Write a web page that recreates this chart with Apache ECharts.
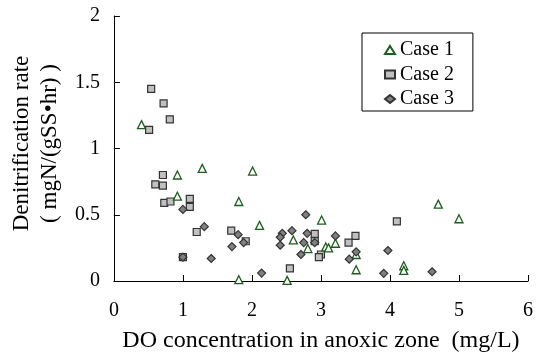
<!DOCTYPE html>
<html>
<head>
<meta charset="utf-8">
<script src="https://cdn.jsdelivr.net/npm/echarts@6/dist/echarts.min.js"></script>
<style>html,body{margin:0;padding:0;background:#fff;}#c{width:536px;height:358px;}</style>
</head>
<body>
<div id="c"></div>
<script>
var xTicks = [0, 1, 2, 3, 4, 5, 6];
var yTicks = [0, 0.5, 1, 1.5, 2];
var seriesNames = ['Case 1', 'Case 2', 'Case 3'];

var case1 = [
  [0.40,1.18],[0.92,0.80],[1.28,0.85],[2.01,0.83],[0.92,0.64],[1.81,0.60],[1.81,0.01],
  [3.01,0.46],[2.11,0.42],[2.60,0.31],[3.21,0.285],[2.81,0.245],[3.07,0.257],[3.11,0.25],
  [3.51,0.20],[3.51,0.085],[2.51,0.005],[4.70,0.58],[5.00,0.47],[4.20,0.115],[4.20,0.08]
];
var case2 = [
  [0.54,1.45],[0.72,1.34],[0.81,1.22],[0.51,1.14],[0.71,0.80],[0.60,0.73],[0.71,0.72],
  [0.73,0.59],[0.82,0.60],[1.10,0.62],[1.10,0.56],[1.20,0.37],[1.70,0.38],[1.91,0.30],
  [1.00,0.18],[2.91,0.355],[3.50,0.34],[2.91,0.30],[3.40,0.29],[3.00,0.20],[2.97,0.18],
  [2.55,0.095],[4.10,0.45]
];
var case3 = [
  [1.00,0.54],[1.31,0.41],[1.80,0.35],[1.88,0.29],[1.71,0.26],[1.00,0.18],[1.41,0.17],
  [2.78,0.50],[2.44,0.36],[2.58,0.38],[2.41,0.33],[2.80,0.36],[3.21,0.34],[2.75,0.29],
  [2.91,0.29],[2.41,0.27],[2.71,0.20],[3.51,0.22],[3.41,0.165],[3.97,0.23],[2.14,0.06],
  [3.91,0.058],[4.61,0.07]
];

var FONT = "'Liberation Serif', 'Times New Roman', serif";
var chart = echarts.init(document.getElementById('c'));
chart.setOption({
  animation: false,
  backgroundColor: '#fff',
  textStyle: { fontFamily: FONT, color: '#000' },
  grid: { left: 112, right: 8, top: 16, bottom: 75 },
  legend: {
    orient: 'vertical',
    left: 362, top: 33,
    padding: [7, 19, 2, 22],
    borderColor: '#000', borderWidth: 1,
    itemWidth: 10, itemHeight: 8, itemGap: 4.5,
    textStyle: { fontFamily: FONT, fontSize: 20, lineHeight: 20, color: '#000' },
    data: seriesNames
  },
  xAxis: {
    type: 'value', min: xTicks[0], max: xTicks[xTicks.length - 1], interval: 1,
    name: 'DO concentration in anoxic zone  (mg/L)',
    nameLocation: 'middle', nameGap: 48,
    nameTextStyle: { fontFamily: FONT, fontSize: 24, color: '#000' },
    axisLine: { show: true, lineStyle: { color: '#000', width: 1 } },
    axisTick: { show: true, inside: true, length: 6, lineStyle: { color: '#000' } },
    axisLabel: { fontFamily: FONT, fontSize: 20, color: '#000', margin: 20 },
    splitLine: { show: false }
  },
  yAxis: {
    type: 'value', min: yTicks[0], max: yTicks[yTicks.length - 1], interval: 0.5,
    name: 'Denitrification rate\n( mgN/(gSS•hr) )',
    nameLocation: 'middle', nameGap: 46, nameRotate: 90,
    nameTextStyle: { fontFamily: FONT, fontSize: 23, lineHeight: 28, color: '#000', padding: [0, 0, 0, 10] },
    axisLine: { show: true, lineStyle: { color: '#000', width: 1 } },
    axisTick: { show: true, inside: true, length: 6, lineStyle: { color: '#000' } },
    axisLabel: { fontFamily: FONT, fontSize: 20, color: '#000', margin: 14 },
    splitLine: { show: false }
  },
  series: [
    { name: seriesNames[0], type: 'scatter', data: case1, symbol: 'triangle', symbolSize: [8, 8],
      itemStyle: { color: '#ffffff', borderColor: '#1d5e1d', borderWidth: 1.3, opacity: 1 }, z: 3 },
    { name: seriesNames[1], type: 'scatter', data: case2, symbol: 'rect', symbolSize: 7,
      itemStyle: { color: '#c0c0c0', borderColor: '#333333', borderWidth: 1.2, opacity: 1 }, z: 2 },
    { name: seriesNames[2], type: 'scatter', data: case3, symbol: 'diamond', symbolSize: 8,
      itemStyle: { color: '#808080', borderColor: '#333333', borderWidth: 1.2, opacity: 1 }, z: 4 }
  ]
});
</script>
</body>
</html>
